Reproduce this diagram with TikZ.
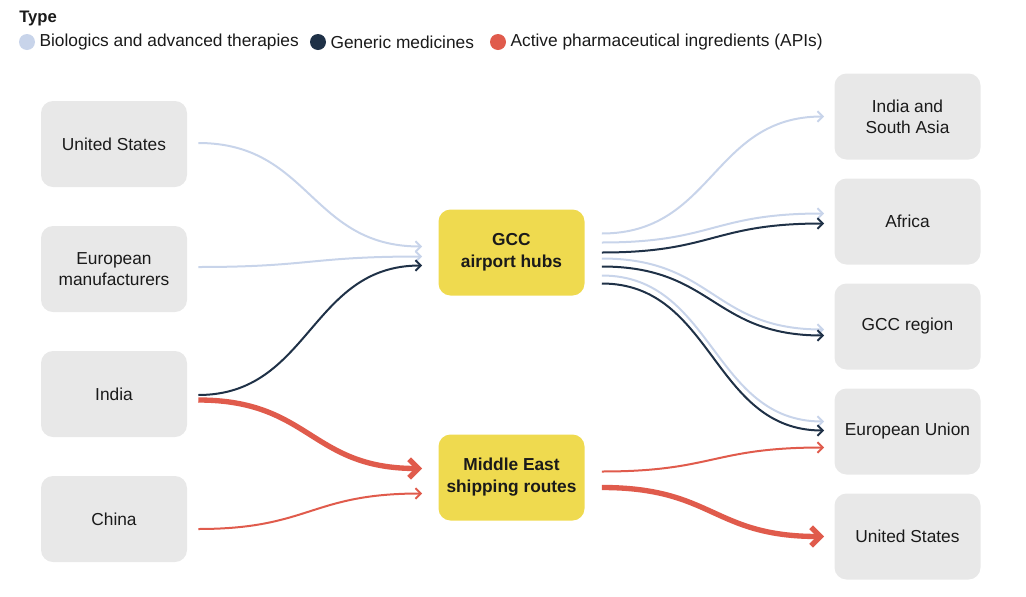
\documentclass[tikz,border=0pt]{standalone}
\usepackage{fontspec}
\setmainfont{Liberation Sans}
\usetikzlibrary{positioning,arrows.meta,calc}
\definecolor{bio}{HTML}{C8D4EA}
\definecolor{gen}{HTML}{1F3147}
\definecolor{api}{HTML}{E05B4C}
\definecolor{hub}{HTML}{EFDA4F}
\definecolor{place}{HTML}{E8E8E8}
\definecolor{ink}{HTML}{1A1A1A}

\begin{document}
\begin{tikzpicture}[x=0.75pt,y=-0.75pt,node distance=93.75pt,
		every node/.style={font=\fontsize{13}{15.75}\selectfont,text=ink},
		box/.style={fill=place,rounded corners=9pt,minimum width=109.5pt,
			minimum height=64.5pt,align=center,inner sep=0pt},
		hubbox/.style={box,fill=hub,font=\fontsize{13}{16.5}\selectfont\bfseries},
		dot/.style={circle,inner sep=0pt,minimum size=12pt},
		key/.style={inner sep=0pt,anchor=west},
		link/.style={-{Straight Barb[length=4pt,width=8pt]},line width=1.5pt},
		biglink/.style={-{Straight Barb[length=7pt,width=14pt]},line width=4pt}]
		
		\useasboundingbox (0,0) rectangle (1026,597);
		
		% legend
		\node[key,font=\fontsize{12.5}{14}\selectfont\bfseries] (type) at (19,18) {Type};
		\node[dot,fill=bio] (dbio) at (27,42) {};
		\node[key,right=3pt of dbio] (tbio) {Biologics and advanced therapies};
		\node[dot,fill=gen] (dgen) at (318,42) {};
		\node[key,right=3pt of dgen] (tgen) {Generic medicines};
		\node[dot,fill=api] (dapi) at (498,42) {};
		\node[key,right=3pt of dapi] (tapi) {Active pharmaceutical ingredients (APIs)};
		
		% origins
		\node[box] (us) at (114,144) {United States};
		\node[box,below of=us] (eum) {European\\manufacturers};
		\node[box,below of=eum] (ind) {India};
		\node[box,below of=ind] (chn) {China};
		
		% hubs
		\node[hubbox] (gcc) at (511.5,252.5) {GCC\\airport hubs};
		\node[hubbox] (mes) at (511.5,477.5) {Middle East\\shipping routes};
		
		% destinations
		\node[box] (sas) at (907.5,116.5) {India and\\South Asia};
		\node[box,node distance=78.75pt,below of=sas] (afr) {Africa};
		\node[box,node distance=78.75pt,below of=afr] (gcr) {GCC region};
		\node[box,node distance=78.75pt,below of=gcr] (eun) {European Union};
		\node[box,node distance=78.75pt,below of=eun] (usd) {United States};
		
		% into the hubs
		\draw[link,bio] ($(us.east)+(11,-1)$) .. controls +(112,0) and +(-112,0) .. ($(gcc.west)+(-16,-6)$);
		\draw[link,bio] ($(eum.east)+(11,-2)$) .. controls +(112,0) and +(-112,0) .. ($(gcc.west)+(-16,4)$);
		\draw[link,gen] ($(ind.east)+(11,1)$) .. controls +(112,0) and +(-112,0) .. ($(gcc.west)+(-16,13)$);
		\draw[biglink,api] ($(ind.east)+(11,6)$) .. controls +(112,0) and +(-112,0) .. ($(mes.west)+(-16,-9)$);
		\draw[link,api] ($(chn.east)+(11,10)$) .. controls +(112,0) and +(-112,0) .. ($(mes.west)+(-16,16)$);
		
		% out of the hubs
		\draw[link,bio] ($(gcc.east)+(17,-19)$) .. controls +(112,0) and +(-112,0) .. ($(sas.west)+(-10,0)$);
		\draw[link,bio] ($(gcc.east)+(17,-10)$) .. controls +(112,0) and +(-112,0) .. ($(afr.west)+(-10,-8)$);
		\draw[link,bio] ($(gcc.east)+(17,6)$) .. controls +(112,0) and +(-112,0) .. ($(gcr.west)+(-10,3)$);
		\draw[link,bio] ($(gcc.east)+(17,23)$) .. controls +(112,0) and +(-112,0) .. ($(eun.west)+(-10,-10)$);
		\draw[link,gen] ($(gcc.east)+(17,0)$) .. controls +(112,0) and +(-112,0) .. ($(afr.west)+(-10,2)$);
		\draw[link,gen] ($(gcc.east)+(17,14)$) .. controls +(112,0) and +(-112,0) .. ($(gcr.west)+(-10,9)$);
		\draw[link,gen] ($(gcc.east)+(17,31)$) .. controls +(112,0) and +(-112,0) .. ($(eun.west)+(-10,-1)$);
		\draw[link,api] ($(mes.east)+(17,-6)$) .. controls +(112,0) and +(-112,0) .. ($(eun.west)+(-10,16)$);
		\draw[biglink,api] ($(mes.east)+(17,10)$) .. controls +(112,0) and +(-112,0) .. ($(usd.west)+(-10,0)$);
\end{tikzpicture}
\end{document}
